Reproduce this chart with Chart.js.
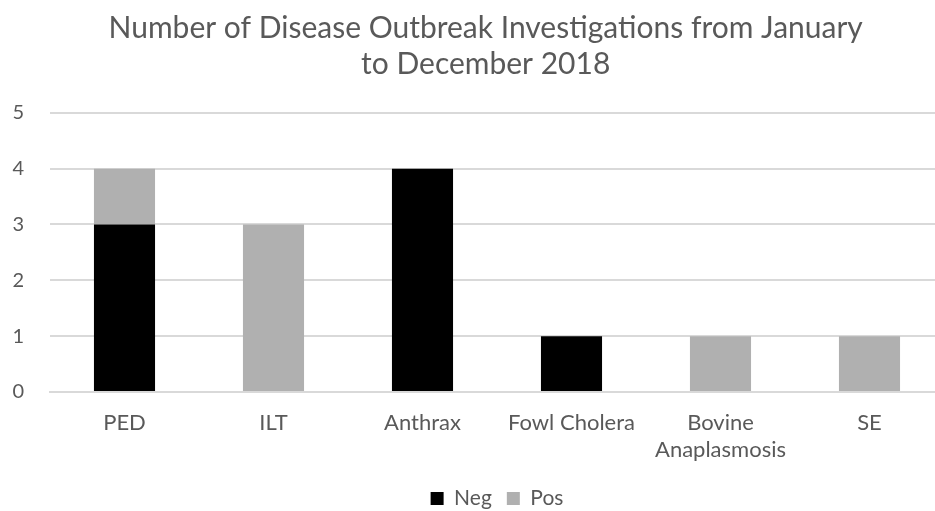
<!DOCTYPE html>
<html>
<head>
<meta charset="utf-8">
<script src="https://cdn.jsdelivr.net/npm/chart.js@4"></script>
<style>
  html, body { margin: 0; padding: 0; background: #fff; overflow: hidden; }
  #wrap { width: 1002px; height: 519px; }
</style>
</head>
<body>
<div id="wrap"><canvas id="outbreakChart"></canvas></div>
<script>
const diseases = ["PED", "ILT", "Anthrax", "Fowl Cholera", ["Bovine", "Anaplasmosis"], "SE"];
const negCounts = [3, 0, 4, 1, 0, 0];
const posCounts = [1, 3, 0, 0, 1, 1];
const titleLines = ["Number of Disease Outbreak Investigations from January", "to December 2018"];

const ctx = document.getElementById("outbreakChart").getContext('2d');
const textGray = '#595959';

// leading spaces nudge the centred title a little to the right
const titleIndent = "  ";

let outbreakChart = new Chart(ctx, {
    type: 'bar',
    data: {
        labels: diseases,
        datasets: [{
            label: "Neg",
            data: negCounts,
            backgroundColor: '#000000',
            borderWidth: 0
        }, {
            label: "Pos",
            data: posCounts,
            backgroundColor: '#b0b0b0',
            borderWidth: 0
        }]
    },
    options: {
        responsive: true,
        maintainAspectRatio: false,
        animation: false,
        layout: { padding: { left: 12, right: 58, top: 11, bottom: 0 } },
        datasets: { bar: { barPercentage: 1, categoryPercentage: 0.41 } },
        plugins: {
            title: {
                display: true,
                text: titleLines.map(t => titleIndent + t),
                color: textGray,
                font: { family: 'Lato', size: 30, weight: 'normal', lineHeight: 1.18 },
                padding: { top: 0, bottom: 31 }
            },
            legend: {
                position: 'bottom',
                fullSize: false,
                labels: {
                    color: textGray,
                    font: { family: 'Lato', size: 21 },
                    boxWidth: 13,
                    boxHeight: 13,
                    padding: 15
                }
            },
            tooltip: { enabled: false }
        },
        scales: {
            x: {
                stacked: true,
                grid: { display: false },
                border: { color: '#d9d9d9', width: 2 },
                ticks: {
                    color: textGray,
                    font: { family: 'Lato', size: 22, lineHeight: 1.25 },
                    maxRotation: 0,
                    padding: 9
                },
                // labels sit inside their categories, no side padding needed
                afterFit: (scale) => {
                    scale.paddingLeft = 0;
                    scale.paddingRight = 0;
                }
            },
            y: {
                stacked: true,
                min: 0,
                max: 5,
                grid: { color: '#d9d9d9', lineWidth: 2, drawTicks: false },
                border: { display: false },
                ticks: {
                    stepSize: 1,
                    color: textGray,
                    font: { family: 'Lato', size: 20 },
                    padding: 26
                },
                afterFit: (scale) => {
                    scale.width = 38;
                }
            }
        }
    }
});
</script>
</body>
</html>
